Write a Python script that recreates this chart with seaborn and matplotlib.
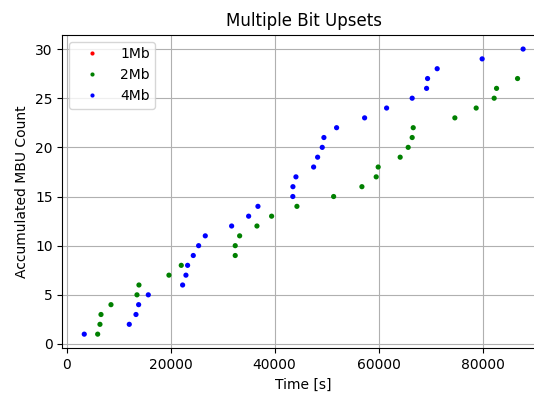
import pandas as pd
import matplotlib
matplotlib.use("Agg")
import matplotlib.pyplot as plt
import seaborn as sns

# MBU events (time in s, accumulated count)
t_1mb = []
n_1mb = []

t_2mb = [5960, 6400, 6600, 8520, 13520, 13900, 19670, 22040, 32420, 32420,
         33270, 36600, 39420, 44290, 51350, 56790, 59540, 59920, 64150, 65690,
         66460, 66660, 74670, 78770, 82230, 82690, 86730]
n_2mb = list(range(1, len(t_2mb) + 1))

t_4mb = [3380, 12040, 13330, 13840, 15700, 22300, 22940, 23260, 24350, 25380,
         26660, 31730, 35000, 36790, 43500, 43520, 44100, 47500, 48270, 49160,
         49480, 51920, 57310, 61540, 66460, 69230, 69420, 71270, 79920, 87800]
n_4mb = list(range(1, len(t_4mb) + 1))

labels = ["1Mb", "2Mb", "4Mb"]
colors = {"1Mb": "red", "2Mb": "green", "4Mb": "blue"}

df = pd.concat([
    pd.DataFrame({"Time": t_1mb, "Count": n_1mb, "Size": "1Mb"}),
    pd.DataFrame({"Time": t_2mb, "Count": n_2mb, "Size": "2Mb"}),
    pd.DataFrame({"Time": t_4mb, "Count": n_4mb, "Size": "4Mb"}),
], ignore_index=True)
df["Time"] = df["Time"].astype(float)
df["Count"] = df["Count"].astype(float)

fig = plt.figure(figsize=(5.34, 3.94), dpi=100)
# axes runs past the right edge, like the cropped original
ax = fig.add_axes([0.1167, 0.1157, 0.904, 0.796])

sns.scatterplot(data=df, x="Time", y="Count", hue="Size", hue_order=labels,
                palette=colors, s=14, linewidth=0, ax=ax, zorder=3)

ax.set_xlim(-841, 92021)
ax.set_ylim(-0.45, 31.45)
ax.set_xticks([0, 20000, 40000, 60000, 80000])
ax.set_yticks([0, 5, 10, 15, 20, 25, 30])
ax.grid(True, color="#b0b0b0", linewidth=0.8)
ax.set_axisbelow(True)

ax.set_title("Multiple Bit Upsets", fontsize=12)
ax.set_xlabel("Time [s]")
ax.set_ylabel("Accumulated MBU Count")
sns.move_legend(ax, "upper left", title=None, markerscale=0.8, handlelength=2.45)

fig.savefig("out.png", dpi=100)
